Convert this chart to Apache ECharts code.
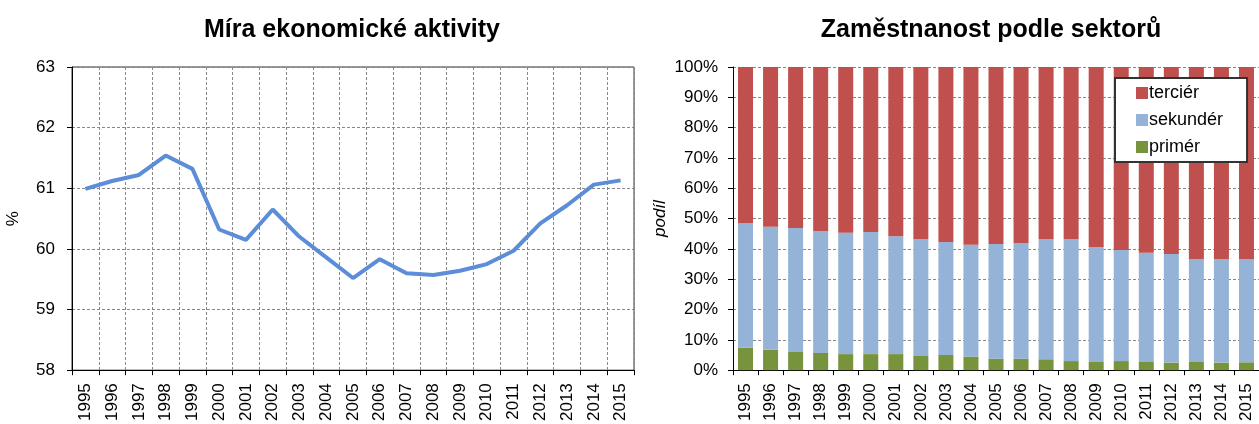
<!DOCTYPE html>
<html>
<head>
<meta charset="utf-8">
<script src="https://cdn.jsdelivr.net/npm/echarts@6/dist/echarts.min.js"></script>
<style>
  html, body { margin: 0; padding: 0; background: #fff; }
  #chart { width: 1259px; height: 424px; }
</style>
</head>
<body>
<div id="chart"></div>
<script>
// roky
const years = ['1995','1996','1997','1998','1999','2000','2001','2002','2003','2004','2005',
  '2006','2007','2008','2009','2010','2011','2012','2013','2014','2015'];

// míra ekonomické aktivity (%)
const activity = [60.99, 61.12, 61.22, 61.54, 61.32, 60.32, 60.15, 60.65, 60.20, 59.86, 59.52,
  59.83, 59.60, 59.57, 59.64, 59.75, 59.97, 60.42, 60.72, 61.06, 61.13];

// podíly sektorů (%)
const primer = [7.4, 6.8, 6.2, 5.7, 5.3, 5.3, 5.3, 4.7, 5.0, 4.5, 3.8,
  3.8, 3.6, 3.0, 2.7, 3.0, 2.7, 2.5, 2.7, 2.5, 2.6];
const sekunderTop = [48.5, 47.3, 46.9, 45.9, 45.3, 45.6, 44.2, 43.3, 42.3, 41.4, 41.6,
  41.9, 43.2, 43.3, 40.6, 39.6, 38.7, 38.3, 36.7, 36.6, 36.6];
const sekunder = sekunderTop.map((v, i) => +(v - primer[i]).toFixed(1));
const tercier = sekunderTop.map(v => +(100 - v).toFixed(1));

const FONT = 'Liberation Sans, Arial, sans-serif';
const gridDash = { color: '#888', type: [3, 2], width: 1 };

const myChart = echarts.init(document.getElementById('chart'));
const option = {
  animation: false,
  textStyle: { fontFamily: FONT },
  title: [
    {
      text: 'Míra ekonomické aktivity',
      left: 347, top: 13, textAlign: 'center',
      textStyle: { fontFamily: FONT, fontSize: 25, fontWeight: 'bold', color: '#000' }
    },
    {
      text: 'Zaměstnanost podle sektorů',
      left: 986, top: 13, textAlign: 'center',
      textStyle: { fontFamily: FONT, fontSize: 25, fontWeight: 'bold', color: '#000' }
    }
  ],
  legend: {
    data: ['terciér', 'sekundér', 'primér'],
    orient: 'vertical',
    left: 1115, top: 78,
    padding: [6, 24, 6, 21],
    itemGap: 9,
    itemWidth: 12, itemHeight: 12,
    icon: 'rect',
    borderColor: '#333', borderWidth: 2,
    backgroundColor: '#fff',
    selectedMode: false,
    textStyle: { fontFamily: FONT, fontSize: 18, color: '#000', padding: [0, 0, 0, -4] }
  },
  grid: [
    { left: 72, top: 67, width: 562, height: 305, show: true, borderColor: '#333', borderWidth: 1 },
    { left: 733, top: 67, width: 531, height: 305 }
  ],
  xAxis: [
    {
      type: 'category', gridIndex: 0, data: years,
      axisLine: { lineStyle: { color: '#000', width: 1 } },
      axisTick: { show: true, length: 5, lineStyle: { color: '#000' } },
      axisLabel: { rotate: 90, fontSize: 17, color: '#000', fontFamily: FONT, margin: 13 },
      splitLine: { show: true, lineStyle: gridDash }
    },
    {
      type: 'category', gridIndex: 1, data: years,
      axisLine: { lineStyle: { color: '#000', width: 1 } },
      axisTick: { show: true, length: 5, lineStyle: { color: '#000' } },
      axisLabel: { rotate: 90, fontSize: 17, color: '#000', fontFamily: FONT, margin: 13 },
      splitLine: { show: false }
    }
  ],
  yAxis: [
    {
      type: 'value', gridIndex: 0, min: 58, max: 63, interval: 1,
      name: '%', nameLocation: 'middle', nameGap: 50, nameRotate: 90,
      nameTextStyle: { fontFamily: FONT, fontSize: 17, color: '#000' },
      axisLine: { show: true, lineStyle: { color: '#000' } },
      axisTick: { show: true, length: 5, lineStyle: { color: '#000' } },
      axisLabel: { fontSize: 17, color: '#000', fontFamily: FONT, margin: 17 },
      splitLine: { lineStyle: gridDash }
    },
    {
      type: 'value', gridIndex: 1, min: 0, max: 100, interval: 10,
      name: 'podíl', nameLocation: 'middle', nameGap: 64, nameRotate: 90,
      nameTextStyle: { fontFamily: FONT, fontSize: 17, color: '#000', fontStyle: 'italic' },
      axisLine: { show: true, lineStyle: { color: '#000' } },
      axisTick: { show: true, length: 5, lineStyle: { color: '#000' } },
      axisLabel: { fontSize: 17, color: '#000', fontFamily: FONT, margin: 15, formatter: '{value}%' },
      splitLine: { lineStyle: gridDash }
    }
  ],
  series: [
    {
      name: 'aktivita', type: 'line', xAxisIndex: 0, yAxisIndex: 0,
      data: activity, symbol: 'none',
      lineStyle: { color: '#5B8DD8', width: 4 }
    },
    {
      name: 'primér', type: 'bar', xAxisIndex: 1, yAxisIndex: 1, stack: 'sektor',
      data: primer, barWidth: 15, itemStyle: { color: '#77933C' }
    },
    {
      name: 'sekundér', type: 'bar', xAxisIndex: 1, yAxisIndex: 1, stack: 'sektor',
      data: sekunder, barWidth: 15, itemStyle: { color: '#95B3D7' }
    },
    {
      name: 'terciér', type: 'bar', xAxisIndex: 1, yAxisIndex: 1, stack: 'sektor',
      data: tercier, barWidth: 15, itemStyle: { color: '#C0504D' }
    }
  ]
};
myChart.setOption(option);
</script>
</body>
</html>
